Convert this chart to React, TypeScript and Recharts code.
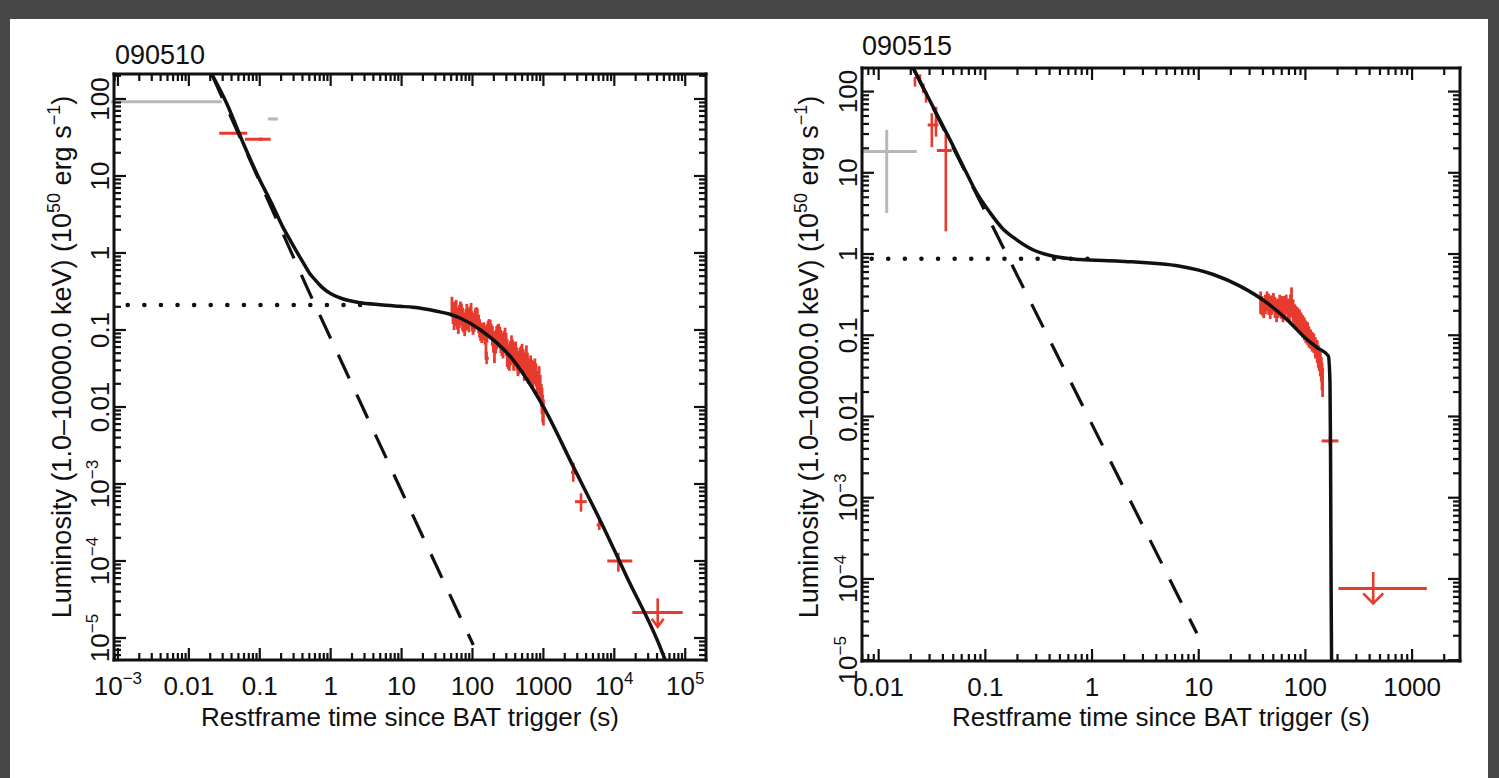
import React from "react";
import { ComposedChart, Line, Scatter, XAxis, YAxis, ErrorBar } from "recharts";

const INK = "#111111";
const RED = "#e63b2e";
const GRAY = "#b8b8b8";
const FONT = "'Liberation Sans', Arial, Helvetica, sans-serif";
const FS = 26;

const MINOR_STEPS = [2, 3, 4, 5, 6, 7, 8, 9];
const PANEL_TITLES = ["090510", "090515"];
const X_TITLE = "Restframe time since BAT trigger (s)";

const Y_MAJORS = [1e-5, 1e-4, 1e-3, 0.01, 0.1, 1, 10, 100];
const Y_LABELS = ["10^−5", "10^−4", "10^−3", "0.01", "0.1", "1", "10", "100"];

// ---------- 090510 ----------
const A_X_MAJORS = [1e-3, 0.01, 0.1, 1, 10, 100, 1000, 1e4, 1e5];
const A_X_LABELS = ["10^−3", "0.01", "0.1", "1", "10", "100", "1000", "10^4", "10^5"];

const A_FIT_T = [0.021, 0.0341, 0.0585, 0.0953, 0.155, 0.21, 0.267, 0.33, 0.4, 0.5, 0.6, 0.75, 0.98, 1.3, 1.68, 2.5, 4.95, 9.5, 14.6, 31.3, 48.2, 66.7, 130, 376, 998, 2640, 6280, 14960, 49100, 52000];
const A_FIT_L = [211, 87.9, 26.6, 9.79, 3.99, 2.2, 1.48, 1.05, 0.78, 0.55, 0.45, 0.36, 0.3, 0.265, 0.245, 0.228, 0.213, 0.203, 0.197, 0.175, 0.16, 0.143, 0.1, 0.0407, 0.0101, 0.00168, 0.00034, 0.0000625, 0.000006, 0.0000052];
const A_DASH_T = [0.021, 0.458, 10.6, 102.6];
const A_DASH_L = [211, 0.365, 0.000719, 0.00000811];
const A_DOT_T = [0.0008, 0.01, 0.1, 1, 3];
const A_DOT_L = [0.211, 0.211, 0.211, 0.211, 0.211];

const A_GRAY_T = [0.0048, 0.155];
const A_GRAY_L = [92, 55];
const A_GRAY_TLO = [0.0008, 0.13];
const A_GRAY_THI = [0.029, 0.18];
const A_GRAY_LLO = [92, 53];
const A_GRAY_LHI = [92, 57];

const A_RED_T = [0.042, 0.104, 158, 2640, 3390, 6140, 11400];
const A_RED_L = [35.9, 30, 0.043, 0.00141, 0.000589, 0.000294, 0.0001];
const A_RED_TLO = [0.0268, 0.0618, 148, 2450, 2790, 5640, 7960];
const A_RED_THI = [0.0667, 0.1426, 170, 2850, 4080, 6760, 17950];
const A_RED_LLO = [34.5, 28.5, 0.036, 0.00107, 0.000437, 0.000253, 0.0000726];
const A_RED_LHI = [37.3, 31.5, 0.052, 0.00189, 0.000757, 0.000358, 0.000128];

const A_CL_T = [51.3, 53.1, 55.0, 56.9, 58.9, 61.0, 63.1, 65.3, 67.6, 70.0, 72.4, 75.0, 77.6, 80.4, 83.2, 86.1, 89.1, 92.3, 95.5, 98.9, 102, 106, 110, 113, 117, 122, 126, 130, 135, 140, 145, 150, 155, 160, 166, 172, 178, 184, 191, 197, 204, 212, 219, 227, 234, 243, 251, 260, 269, 278, 288, 298, 309, 320, 331, 343, 355, 367, 380, 393, 407, 422, 437, 452, 468, 484, 501, 519, 537, 556, 575, 596, 617, 639, 661, 684, 708, 733, 759, 786, 813, 842, 871, 902, 933, 955, 977, 1000];
const A_CL_L = [0.2, 0.165, 0.141, 0.17, 0.166, 0.14, 0.12, 0.15, 0.178, 0.16, 0.138, 0.125, 0.112, 0.135, 0.151, 0.14, 0.126, 0.15, 0.166, 0.13, 0.117, 0.125, 0.141, 0.15, 0.145, 0.12, 0.105, 0.095, 0.0891, 0.095, 0.1, 0.085, 0.0661, 0.09, 0.105, 0.11, 0.11, 0.095, 0.0832, 0.07, 0.0562, 0.07, 0.0794, 0.085, 0.0891, 0.08, 0.0708, 0.065, 0.0603, 0.07, 0.0794, 0.065, 0.0501, 0.045, 0.0417, 0.05, 0.0603, 0.052, 0.0447, 0.048, 0.0525, 0.042, 0.0355, 0.038, 0.0417, 0.045, 0.0479, 0.04, 0.0316, 0.036, 0.0447, 0.036, 0.0282, 0.03, 0.0331, 0.029, 0.0251, 0.028, 0.0302, 0.026, 0.02, 0.021, 0.0224, 0.018, 0.0141, 0.012, 0.00955, 0.0085];
const A_CL_DEX = [0.13, 0.14, 0.15, 0.14, 0.17, 0.14, 0.13, 0.15, 0.12, 0.14, 0.15, 0.13, 0.13, 0.14, 0.16, 0.14, 0.13, 0.13, 0.13, 0.13, 0.13, 0.12, 0.13, 0.12, 0.12, 0.12, 0.12, 0.12, 0.12, 0.11, 0.1, 0.12, 0.17, 0.12, 0.1, 0.1, 0.09, 0.1, 0.13, 0.14, 0.18, 0.15, 0.15, 0.14, 0.13, 0.14, 0.15, 0.15, 0.15, 0.14, 0.13, 0.15, 0.18, 0.16, 0.15, 0.16, 0.15, 0.16, 0.18, 0.16, 0.13, 0.15, 0.15, 0.15, 0.15, 0.14, 0.14, 0.15, 0.16, 0.15, 0.15, 0.15, 0.15, 0.15, 0.15, 0.15, 0.16, 0.15, 0.15, 0.15, 0.15, 0.15, 0.18, 0.16, 0.15, 0.17, 0.18, 0.17];

// upper limit: horizontal bar and a stem from the arrow tip up to its top
const A_UL = { t: 40900, l: 0.0000215, tLo: 17950, tHi: 92300, tip: 0.000014, top: 0.0000327 };

// ---------- 090515 ----------
const B_X_MAJORS = [0.01, 0.1, 1, 10, 100, 1000];
const B_X_LABELS = ["0.01", "0.1", "1", "10", "100", "1000"];

const B_FIT_T = [0.0211, 0.0351, 0.0467, 0.0622, 0.083, 0.111, 0.148, 0.183, 0.282, 0.434, 0.771, 1.83, 6.68, 13.7, 24.4, 43.4, 66.8, 103, 130, 164, 170, 172, 174, 176];
const B_FIT_L = [194, 52.5, 25.4, 11.9, 5.64, 3.21, 2.0, 1.6, 1.12, 0.94, 0.857, 0.817, 0.708, 0.56, 0.403, 0.252, 0.157, 0.0893, 0.07, 0.0557, 0.0263, 0.00399, 0.0000925, 0.0000079];
const B_DASH_T = [0.0211, 9.6];
const B_DASH_L = [194, 0.0000214];
const B_DOT_T = [0.006, 0.1, 1.2];
const B_DOT_L = [0.873, 0.873, 0.873];

const B_GRAY_T = [0.0119];
const B_GRAY_L = [18.3];
const B_GRAY_TLO = [0.0071];
const B_GRAY_THI = [0.0228];
const B_GRAY_LLO = [3.2];
const B_GRAY_LHI = [33.7];

const B_RED_T = [0.0219, 0.0244, 0.0262, 0.0278, 0.0315, 0.0345, 0.0426, 170];
const B_RED_L = [132, 146, 110, 86, 38.8, 42.7, 18.8, 0.005];
const B_RED_TLO = [0.0214, 0.0239, 0.0257, 0.0272, 0.0288, 0.0335, 0.0351, 142];
const B_RED_THI = [0.0224, 0.0249, 0.0267, 0.0284, 0.0363, 0.0355, 0.0484, 204];
const B_RED_LLO = [115, 127, 96, 73, 20.7, 27.9, 1.9, 0.00439];
const B_RED_LHI = [151, 163, 126, 101, 54.1, 65.0, 30.1, 0.00582];

const B_CL_T = [38.0, 39.3, 40.7, 42.2, 43.7, 45.2, 46.8, 48.4, 50.1, 51.9, 53.7, 55.6, 57.5, 59.6, 61.7, 63.8, 66.1, 68.4, 70.8, 72.4, 74.1, 76.7, 79.4, 82.2, 85.1, 88.1, 91.2, 94.4, 97.7, 101, 105, 108, 112, 116, 120, 124, 129, 132, 135, 138, 141, 143, 145];
const B_CL_L = [0.251, 0.23, 0.209, 0.24, 0.263, 0.24, 0.219, 0.235, 0.251, 0.22, 0.2, 0.215, 0.234, 0.22, 0.209, 0.225, 0.24, 0.215, 0.191, 0.23, 0.263, 0.2, 0.174, 0.165, 0.158, 0.15, 0.138, 0.128, 0.12, 0.11, 0.105, 0.095, 0.0891, 0.083, 0.0794, 0.07, 0.0631, 0.055, 0.0501, 0.044, 0.038, 0.031, 0.0263];
const B_CL_DEX = [0.14, 0.12, 0.11, 0.12, 0.12, 0.13, 0.14, 0.12, 0.12, 0.13, 0.14, 0.12, 0.13, 0.14, 0.16, 0.13, 0.12, 0.12, 0.12, 0.14, 0.17, 0.14, 0.14, 0.14, 0.14, 0.14, 0.14, 0.14, 0.14, 0.14, 0.14, 0.13, 0.12, 0.12, 0.12, 0.13, 0.14, 0.14, 0.14, 0.15, 0.15, 0.17, 0.18];

const B_UL = { t: 432, l: 0.0000764, tLo: 204, tHi: 1374, tip: 0.00005, top: 0.000122 };

// ---------- helpers ----------
const zip = (ts: number[], ls: number[]) => ts.map((t, i) => ({ t, l: ls[i] }));

const crosses = (ts: number[], ls: number[], tLo: number[], tHi: number[], lLo: number[], lHi: number[]) =>
  ts.map((t, i) => ({ t, l: ls[i], ex: [t - tLo[i], tHi[i] - t], ey: [ls[i] - lLo[i], lHi[i] - ls[i]] }));

const cluster = (ts: number[], ls: number[], dex: number[]) =>
  ts.map((t, i) => {
    const f = Math.pow(10, dex[i]);
    return { t, l: ls[i], ey: [ls[i] - ls[i] / f, ls[i] * f - ls[i]] };
  });

const upperLimit = (u: typeof A_UL) => ({
  bar: [{ t: u.t, l: u.l, ex: [u.t - u.tLo, u.tHi - u.t], ey: [u.l - u.tip, u.top - u.l] }],
  tip: [{ t: u.t, l: u.tip }],
});

function buildTicks(majors: number[], domain: number[]) {
  const lo = Math.round(Math.log10(majors[0])) - 1;
  const hi = Math.round(Math.log10(majors[majors.length - 1])) + 1;
  const out: number[] = [];
  for (let e = lo; e <= hi; e++) {
    const d = Math.pow(10, e);
    out.push(d);
    MINOR_STEPS.forEach((s) => out.push(d * s));
  }
  return out.filter((v) => v >= domain[0] && v <= domain[1]);
}

function labelFor(v: number, majors: number[], labels: string[]) {
  const i = majors.findIndex((m) => Math.abs(Math.log10(m) - Math.log10(v)) < 1e-6);
  return i >= 0 ? labels[i] : null;
}

function isMajor(v: number) {
  const lg = Math.log10(v);
  return Math.abs(lg - Math.round(lg)) < 1e-6;
}

function SupText({ label, ...rest }: any) {
  const [base, exp] = label.split("^");
  return (
    <text {...rest} fontFamily={FONT} fontSize={FS} fill={INK}>
      {base}
      {exp && <tspan dy={-11} fontSize={17}>{exp}</tspan>}
    </text>
  );
}

const MAJOR_LEN = 12;
const MINOR_LEN = 7;
const TICK_W = 2.2;

function BottomTick({ x, y, payload, majors, labels }: any) {
  const label = labelFor(payload.value, majors, labels);
  const len = isMajor(payload.value) ? MAJOR_LEN : MINOR_LEN;
  return (
    <g>
      <line x1={x} y1={y} x2={x} y2={y - len} stroke={INK} strokeWidth={TICK_W} />
      {label && <SupText label={label} x={x} y={y + 35} textAnchor="middle" />}
    </g>
  );
}

function TopTick({ x, y, payload }: any) {
  const len = isMajor(payload.value) ? MAJOR_LEN : MINOR_LEN;
  return <line x1={x} y1={y} x2={x} y2={y + len} stroke={INK} strokeWidth={TICK_W} />;
}

function LeftTick({ x, y, payload }: any) {
  const label = labelFor(payload.value, Y_MAJORS, Y_LABELS);
  const len = isMajor(payload.value) ? MAJOR_LEN : MINOR_LEN;
  const tx = x - 5;
  return (
    <g>
      <line x1={x} y1={y} x2={x + len} y2={y} stroke={INK} strokeWidth={TICK_W} />
      {label && <SupText label={label} x={tx} y={y} textAnchor="middle" transform={`rotate(-90 ${tx} ${y})`} />}
    </g>
  );
}

function RightTick({ x, y, payload }: any) {
  const len = isMajor(payload.value) ? MAJOR_LEN : MINOR_LEN;
  return <line x1={x} y1={y} x2={x - len} y2={y} stroke={INK} strokeWidth={TICK_W} />;
}

const Empty = () => <g />;

const arrowShape = (w: number, h: number) => (props: any) => {
  const { cx, cy } = props;
  return <polyline points={`${cx - w},${cy - h} ${cx},${cy} ${cx + w},${cy - h}`} fill="none" stroke={RED} strokeWidth={2.6} />;
};

const PANEL_A = {
  left: 0,
  width: 760,
  margin: { top: 73, right: 53, bottom: 58, left: 54 },
  xDomain: [0.00088, 196300],
  yDomain: [0.00000518, 211],
  xMajors: A_X_MAJORS,
  xLabels: A_X_LABELS,
  fit: zip(A_FIT_T, A_FIT_L),
  dash: zip(A_DASH_T, A_DASH_L),
  dot: zip(A_DOT_T, A_DOT_L),
  gray: crosses(A_GRAY_T, A_GRAY_L, A_GRAY_TLO, A_GRAY_THI, A_GRAY_LLO, A_GRAY_LHI),
  red: crosses(A_RED_T, A_RED_L, A_RED_TLO, A_RED_THI, A_RED_LLO, A_RED_LHI),
  cluster: cluster(A_CL_T, A_CL_L, A_CL_DEX),
  ul: upperLimit(A_UL),
  arrow: arrowShape(6, 8),
};

const PANEL_B = {
  left: 760,
  width: 739,
  margin: { top: 67, right: 38, bottom: 57, left: 42 },
  xDomain: [0.00698, 2812],
  yDomain: [0.00000977, 195],
  xMajors: B_X_MAJORS,
  xLabels: B_X_LABELS,
  fit: zip(B_FIT_T, B_FIT_L),
  dash: zip(B_DASH_T, B_DASH_L),
  dot: zip(B_DOT_T, B_DOT_L),
  gray: crosses(B_GRAY_T, B_GRAY_L, B_GRAY_TLO, B_GRAY_THI, B_GRAY_LLO, B_GRAY_LHI),
  red: crosses(B_RED_T, B_RED_L, B_RED_TLO, B_RED_THI, B_RED_LLO, B_RED_LHI),
  cluster: cluster(B_CL_T, B_CL_L, B_CL_DEX),
  ul: upperLimit(B_UL),
  arrow: arrowShape(10, 10),
};

function Panel({ p }: { p: typeof PANEL_A }) {
  const xTicks = buildTicks(p.xMajors, p.xDomain);
  const yTicks = buildTicks(Y_MAJORS, p.yDomain);
  const frame = { stroke: INK, strokeWidth: 3, strokeLinecap: "square" };
  const common: any = {
    type: "number",
    scale: "log",
    allowDataOverflow: true,
    interval: 0,
    tickSize: 0,
    tickMargin: 0,
    tickLine: false,
    axisLine: frame,
  };
  return (
    <div style={{ position: "absolute", left: p.left, top: 0 }}>
      <ComposedChart width={p.width} height={778} margin={p.margin}>
        <XAxis xAxisId="b" dataKey="t" orientation="bottom" {...common} domain={p.xDomain} ticks={xTicks} height={60}
          tick={(tp: any) => <BottomTick {...tp} majors={p.xMajors} labels={p.xLabels} />} />
        <XAxis xAxisId="t" dataKey="t" orientation="top" {...common} domain={p.xDomain} ticks={xTicks} height={1}
          tick={(tp: any) => <TopTick {...tp} />} />
        <YAxis yAxisId="l" orientation="left" {...common} domain={p.yDomain} ticks={yTicks} width={60}
          tick={(tp: any) => <LeftTick {...tp} />} />
        <YAxis yAxisId="r" orientation="right" {...common} domain={p.yDomain} ticks={yTicks} width={1}
          tick={(tp: any) => <RightTick {...tp} />} />

        <Scatter xAxisId="b" yAxisId="l" data={p.gray} dataKey="l" shape={Empty} isAnimationActive={false}>
          <ErrorBar dataKey="ex" direction="x" width={0} stroke={GRAY} strokeWidth={3} isAnimationActive={false} />
          <ErrorBar dataKey="ey" direction="y" width={0} stroke={GRAY} strokeWidth={3} isAnimationActive={false} />
        </Scatter>
        <Scatter xAxisId="b" yAxisId="l" data={p.cluster} dataKey="l" shape={Empty} isAnimationActive={false}>
          <ErrorBar dataKey="ey" direction="y" width={0} stroke={RED} strokeWidth={2.8} isAnimationActive={false} />
        </Scatter>
        <Scatter xAxisId="b" yAxisId="l" data={p.red} dataKey="l" shape={Empty} isAnimationActive={false}>
          <ErrorBar dataKey="ex" direction="x" width={0} stroke={RED} strokeWidth={3} isAnimationActive={false} />
          <ErrorBar dataKey="ey" direction="y" width={0} stroke={RED} strokeWidth={2.6} isAnimationActive={false} />
        </Scatter>
        <Scatter xAxisId="b" yAxisId="l" data={p.ul.bar} dataKey="l" shape={Empty} isAnimationActive={false}>
          <ErrorBar dataKey="ex" direction="x" width={0} stroke={RED} strokeWidth={3} isAnimationActive={false} />
          <ErrorBar dataKey="ey" direction="y" width={0} stroke={RED} strokeWidth={2.6} isAnimationActive={false} />
        </Scatter>
        <Scatter xAxisId="b" yAxisId="l" data={p.ul.tip} dataKey="l" shape={p.arrow} isAnimationActive={false} />

        <Line xAxisId="b" yAxisId="l" data={p.dot} dataKey="l" type="linear" stroke={INK} strokeWidth={4.5}
          strokeDasharray="0.1 16.5" strokeLinecap="round" dot={false} activeDot={false} isAnimationActive={false} />
        <Line xAxisId="b" yAxisId="l" data={p.dash} dataKey="l" type="linear" stroke={INK} strokeWidth={3.2}
          strokeDasharray="26 18" dot={false} activeDot={false} isAnimationActive={false} />
        <Line xAxisId="b" yAxisId="l" data={p.fit} dataKey="l" type="monotone" stroke={INK} strokeWidth={3.5}
          dot={false} activeDot={false} isAnimationActive={false} />
      </ComposedChart>
    </div>
  );
}

function YTitle({ x, y }: { x: number; y: number }) {
  return (
    <text transform={`translate(${x},${y}) rotate(-90)`} textAnchor="middle" fontSize={27}>
      Luminosity (1.0–10000.0 keV) (10
      <tspan dy={-11} fontSize={18}>50</tspan>
      <tspan dy={11}> erg s</tspan>
      <tspan dy={-11} fontSize={18}>−1</tspan>
      <tspan dy={11}>)</tspan>
    </text>
  );
}

function Titles() {
  return (
    <svg width={1499} height={778} style={{ position: "absolute", left: 0, top: 0, pointerEvents: "none" }}
      fontFamily={FONT} fill={INK}>
      <text x={115} y={64} fontSize={27}>{PANEL_TITLES[0]}</text>
      <text x={862} y={55} fontSize={27}>{PANEL_TITLES[1]}</text>
      <text x={410} y={726} fontSize={FS} textAnchor="middle">{X_TITLE}</text>
      <text x={1161} y={726} fontSize={FS} textAnchor="middle">{X_TITLE}</text>
      <YTitle x={71} y={357} />
      <YTitle x={818} y={357} />
    </svg>
  );
}

export default function App() {
  return (
    <div style={{ position: "absolute", left: 0, top: 0, width: 1499, height: 778, background: "#474747", overflow: "hidden" }}>
      <div style={{ position: "absolute", left: 10, top: 19, width: 1478, height: 759, background: "#ffffff" }} />
      <Panel p={PANEL_A} />
      <Panel p={PANEL_B} />
      <Titles />
    </div>
  );
}
